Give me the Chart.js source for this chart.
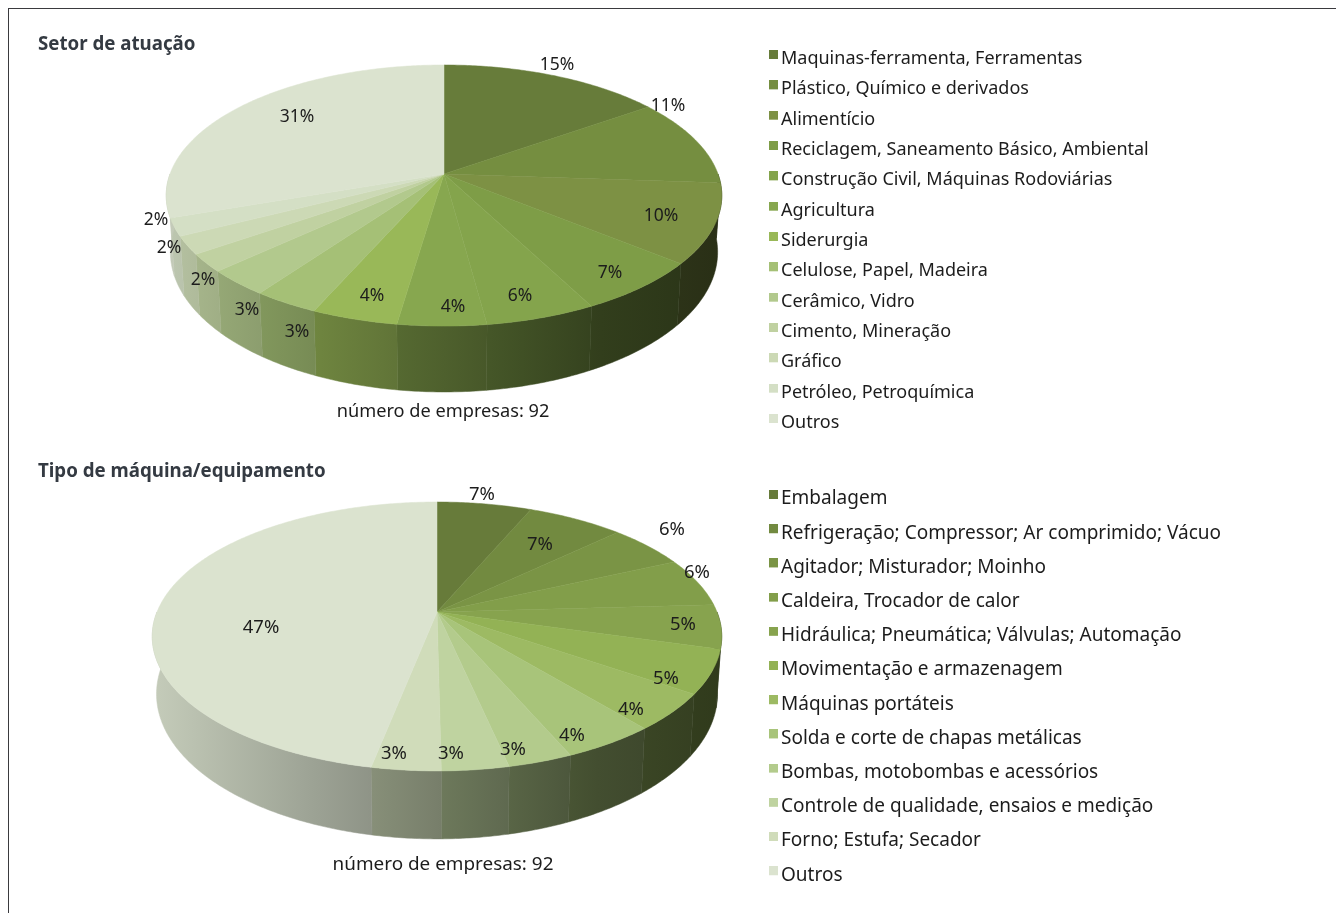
<!DOCTYPE html>
<html lang="pt"><head><meta charset="utf-8">
<style>
html,body{margin:0;padding:0;background:#fff;width:1336px;height:913px;overflow:hidden}
#frame{position:absolute;left:8px;top:8px;right:0;bottom:0;border-left:1.5px solid #3a3a3e;border-top:1.5px solid #3a3a3e}
canvas{position:absolute;left:0}
#c1{top:0}#c2{top:450px}
</style></head><body>
<div id="frame"></div>
<canvas id="c1" width="1336" height="450"></canvas>
<canvas id="c2" width="1336" height="463"></canvas>
<script src="https://cdn.jsdelivr.net/npm/chart.js@4"></script>
<script>
const sectorLabels=["Maquinas-ferramenta, Ferramentas","Plástico, Químico e derivados","Alimentício","Reciclagem, Saneamento Básico, Ambiental","Construção Civil, Máquinas Rodoviárias","Agricultura","Siderurgia","Celulose, Papel, Madeira","Cerâmico, Vidro","Cimento, Mineração","Gráfico","Petróleo, Petroquímica","Outros"];
const sectorPrinted=[15,11,10,7,6,4,4,3,3,2,2,2,31];
const sectorValues=[15.2,10.9,9.8,6.5,5.5,4.4,4.3,3.3,3.2,2.2,2.2,2.2,30.3];
const sectorColors=["#677c3a","#758e40","#7d9144","#7e9d47","#84a44c","#87a74f","#99b858","#a5c076","#b2c98d","#c0d1a1","#ccd9b5","#d4dfc5","#dbe3cf"];
const sectorLabelOffsets=[[113,-110],[224,-69],[217,41],[166,98],[76,121],[9,132],[-72,121],[-147,157],[-197,135],[-241,105],[-275,73],[-288,45],[-147,-58]];

const machineLabels=["Embalagem","Refrigeração; Compressor; Ar comprimido; Vácuo","Agitador; Misturador; Moinho","Caldeira, Trocador de calor","Hidráulica; Pneumática; Válvulas; Automação","Movimentação e armazenagem","Máquinas portáteis","Solda e corte de chapas metálicas","Bombas, motobombas e acessórios","Controle de qualidade, ensaios e medição","Forno; Estufa; Secador","Outros"];
const machinePrinted=[7,7,6,6,5,5,4,4,3,3,3,47];
const machineValues=[6.4,6.5,5.3,5.9,5.3,5.2,4.4,4.5,3.1,3.2,3.3,46.9];
const machineColors=["#677b3a","#728a40","#7a9445","#829e4a","#87a34e","#93b255","#9dba63","#a8c47a","#b3cb8c","#bfd3a0","#d0dcba","#dbe3cf"];
const machineLabelOffsets=[[45,-119],[103,-69],[235,-84],[260,-41],[246,11],[229,65],[194,96],[135,122],[76,136],[14,140],[-43,140],[-176,14]];

const FONT='"Noto Sans"';
const wallStops=[[0,.9],[.28,.72],[.5,.58],[.78,.4],[1,.33]];
function shade(hex,f){
  const n=parseInt(hex.slice(1),16);
  return `rgb(${((n>>16)&255)*f|0},${((n>>8)&255)*f|0},${(n&255)*f|0})`;
}
function topPoint(arc,a,g){
  const w=1-g.k*Math.sin(a);
  return [arc.x+arc.outerRadius*Math.cos(a)/w, arc.y+g.ry*Math.sin(a)/w];
}
function basePoint(arc,a,g){
  const w=1-g.k*Math.sin(a);
  return [arc.x+g.shrink*arc.outerRadius*Math.cos(a)/w, arc.y+(g.ry*Math.sin(a)+g.depth)/w];
}
// Each slice is still drawn by the library's arc element, seen in perspective.
Chart.elements.ArcElement.prototype.draw=function(ctx){
  const g=this.$context&&this.$context.chart.options.plugins.pie3d;
  if(!g)return;
  const n=Math.max(4,Math.ceil((this.endAngle-this.startAngle)*90));
  ctx.save();
  ctx.beginPath();ctx.moveTo(this.x,this.y);
  for(let i=0;i<=n;i++){
    const p=topPoint(this,this.startAngle+(this.endAngle-this.startAngle)*i/n,g);
    ctx.lineTo(p[0],p[1]);
  }
  ctx.closePath();
  ctx.fillStyle=this.options.backgroundColor;
  ctx.strokeStyle=this.options.backgroundColor;
  ctx.lineWidth=.5;
  ctx.fill();ctx.stroke();
  ctx.restore();
};
function swatch(color,size,padLeft,height){
  const c=document.createElement('canvas');
  c.width=size+padLeft;c.height=height;
  const x=c.getContext('2d');
  x.fillStyle=color;x.fillRect(padLeft,0,size,size);
  return c;
}
const pie3d={
  id:'pie3d',
  afterLayout(chart,args,g){
    const R=g.r;
    chart.chartArea={left:g.cx-R,right:g.cx+R,top:g.cy-R,bottom:g.cy+R,width:2*R,height:2*R};
    const leg=chart.legend;
    const pad=chart.options.plugins.legend.labels.padding;
    leg.left=g.legendX-pad; leg.right=chart.width;
    leg.top=g.legendY-pad; leg.bottom=chart.height+400;
    const t=chart.titleBlock;
    t.left=g.titleX; t.right=chart.width; t.top=g.titleY;
    const s=chart.boxes.find(b=>b!==t&&b.options&&b.options.text===g.note);
    s.left=g.noteX-300; s.right=g.noteX+300; s.top=g.noteY;
  },
  beforeDatasetsDraw(chart,args,g){
    const ctx=chart.ctx, meta=chart.getDatasetMeta(0);
    const left=g.cx-g.r*1.02, width=g.r*2.04;
    ctx.save();
    meta.data.forEach(arc=>{
      const s=Math.max(arc.startAngle,0), e=Math.min(arc.endAngle,Math.PI);
      if(e<=s)return;
      const n=Math.max(2,Math.ceil((e-s)*90));
      const grad=ctx.createLinearGradient(left,0,left+width,0);
      const col=arc.options.backgroundColor;
      wallStops.forEach(st=>grad.addColorStop(st[0],shade(col,st[1])));
      ctx.beginPath();
      for(let i=0;i<=n;i++){const p=topPoint(arc,s+(e-s)*i/n,g);i?ctx.lineTo(p[0],p[1]):ctx.moveTo(p[0],p[1]);}
      for(let i=n;i>=0;i--){const q=basePoint(arc,s+(e-s)*i/n,g);ctx.lineTo(q[0],q[1]);}
      ctx.closePath();
      ctx.fillStyle=grad;ctx.strokeStyle=grad;ctx.lineWidth=.5;ctx.fill();ctx.stroke();
    });
    ctx.restore();
  },
  afterDatasetsDraw(chart,args,g){
    const ctx=chart.ctx, meta=chart.getDatasetMeta(0);
    ctx.save();
    ctx.font=`${g.labelSize}px ${FONT}`;
    ctx.fillStyle='#1c1c1c';ctx.textAlign='center';ctx.textBaseline='middle';
    meta.data.forEach((arc,i)=>{
      ctx.fillText(g.printed[i]+'%',arc.x+g.offsets[i][0],arc.y+g.offsets[i][1]+1.5);
    });
    ctx.restore();
  }
};
function makeChart(id,title,labels,values,colors,g,step){
  const size=g.legendSize;
  return new Chart(document.getElementById(id),{
    type:'pie',
    data:{labels,datasets:[{data:values,backgroundColor:colors,borderWidth:0,clip:false}]},
    plugins:[pie3d],
    options:{
      responsive:false,animation:false,rotation:0,
      layout:{padding:0},
      plugins:{
        tooltip:{enabled:false},
        title:{display:true,text:title,align:'start',color:'#343a42',padding:0,font:{family:FONT,size:g.titleSize,weight:'bold',lineHeight:1.2}},
        subtitle:{display:true,text:g.note,position:'bottom',align:'center',color:'#1c1c1c',padding:0,font:{family:FONT,size:g.noteSize,lineHeight:1.2}},
        legend:{display:true,position:'right',align:'start',onClick:null,
          labels:{usePointStyle:true,boxWidth:1,boxHeight:9,padding:step-size,color:'#1c1c1c',font:{family:FONT,size:size},
            generateLabels:c=>c.data.labels.map((t,i)=>({text:t,fillStyle:colors[i],strokeStyle:colors[i],lineWidth:0,hidden:false,index:i,pointStyle:swatch(colors[i],9,g.swatchPad,18),fontColor:'#1c1c1c'}))}},
        pie3d:g
      }
    }
  });
}
makeChart('c1','Setor de atuação',sectorLabels,sectorValues,sectorColors,
 {cx:444,cy:174,r:274,ry:127,k:.165,depth:55,shrink:.985,offsets:sectorLabelOffsets,printed:sectorPrinted,labelSize:17.5,
  legendX:771,legendY:50,legendSize:18,swatchPad:4,titleX:38,titleY:33.5,titleSize:18.7,note:'número de empresas: 92',noteX:443,noteY:401,noteSize:18.2},30.33);
makeChart('c2','Tipo de máquina/equipamento',machineLabels,machineValues,machineColors,
 {cx:437,cy:162,r:280,ry:130,k:.182,depth:55.6,shrink:.985,offsets:machineLabelOffsets,printed:machinePrinted,labelSize:18.5,
  legendX:770.5,legendY:39.5,legendSize:19,swatchPad:5,titleX:38,titleY:10.5,titleSize:18.7,note:'número de empresas: 92',noteX:443,noteY:403.5,noteSize:18.9},34.2);
</script>
</body></html>
